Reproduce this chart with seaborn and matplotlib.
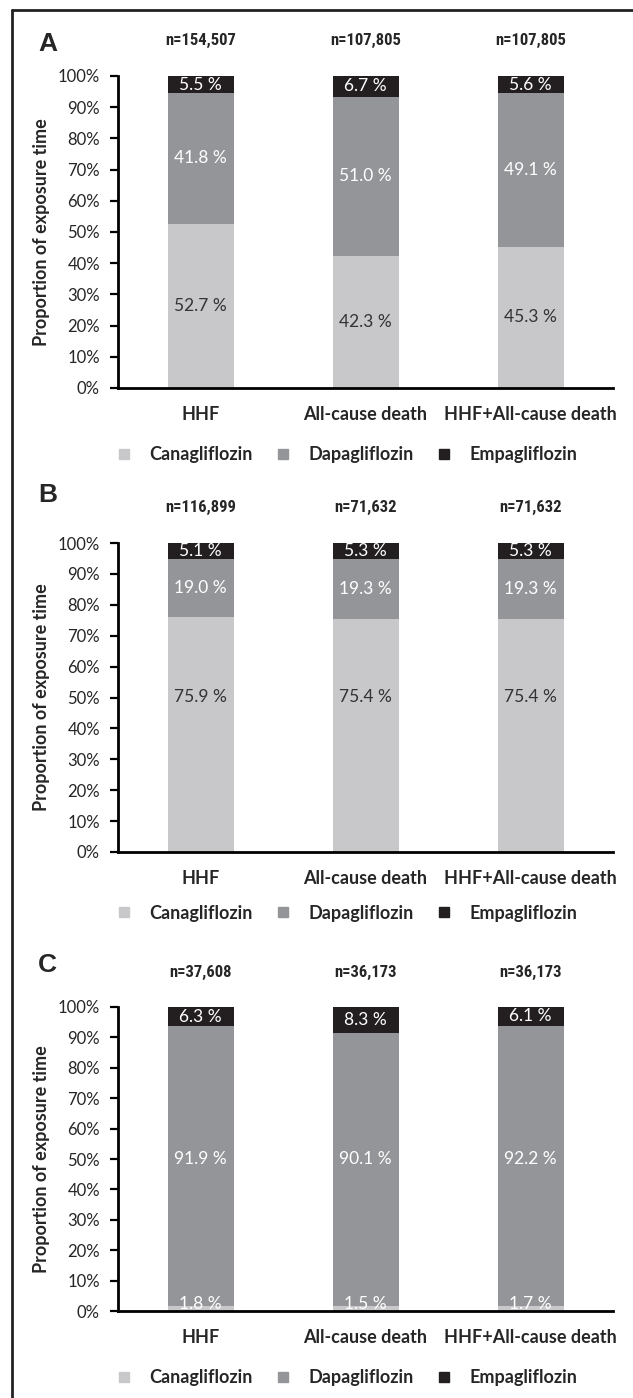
import numpy as np
import pandas as pd
import matplotlib
matplotlib.use("Agg")
import matplotlib.pyplot as plt
import seaborn as sns
from matplotlib.lines import Line2D

# ---------------- data ----------------
outcomes = ["HHF", "All-cause death", "HHF+All-cause death"]
drugs = ["Canagliflozin", "Dapagliflozin", "Empagliflozin"]
panel_names = ["A", "B", "C"]

n_A = ["n=154,507", "n=107,805", "n=107,805"]
n_B = ["n=116,899", "n=71,632", "n=71,632"]
n_C = ["n=37,608", "n=36,173", "n=36,173"]

cana_A = [52.7, 42.3, 45.3]
dapa_A = [41.8, 51.0, 49.1]
empa_A = [5.5, 6.7, 5.6]

cana_B = [75.9, 75.4, 75.4]
dapa_B = [19.0, 19.3, 19.3]
empa_B = [5.1, 5.3, 5.3]

cana_C = [1.8, 1.5, 1.7]
dapa_C = [91.9, 90.1, 92.2]
empa_C = [6.3, 8.3, 6.1]

ytick_values = [0, 10, 20, 30, 40, 50, 60, 70, 80, 90, 100]
ytick_labels = ["0%", "10%", "20%", "30%", "40%", "50%", "60%", "70%", "80%", "90%", "100%"]
ylabel = "Proportion of exposure time"

# ---------------- style ----------------
sns.set_style("white")
plt.rcParams["font.family"] = ["Lato", "DejaVu Sans"]

colors = {"Canagliflozin": "#c8c8ca", "Dapagliflozin": "#939598", "Empagliflozin": "#231f20"}
text_colors = {"Canagliflozin": "#333333", "Dapagliflozin": "white", "Empagliflozin": "white"}
ink = "#262626"

W, H = 633, 1398
fig = plt.figure(figsize=(W / 100, H / 100), dpi=100)

ax_left_px, ax_right_px = 118, 613
panel_px = [(76, 388), (543, 852), (1007, 1311)]
letter_y_px = [44, 495, 965]
legend_y_px = [455, 913, 1378]

panels = [
    (n_A, cana_A, dapa_A, empa_A),
    (n_B, cana_B, dapa_B, empa_B),
    (n_C, cana_C, dapa_C, empa_C),
]

narrow = ["Roboto Condensed", "Liberation Sans Narrow", "Liberation Sans", "DejaVu Sans"]

for i, (nlab, cana, dapa, empa) in enumerate(panels):
    top, bot = panel_px[i]
    ax = fig.add_axes([ax_left_px / W, 1 - bot / H,
                       (ax_right_px - ax_left_px) / W, (bot - top) / H])
    layers = [cana, dapa, empa]
    bottoms = np.zeros(3)
    for drug, vals in zip(drugs, layers):
        df = pd.DataFrame({"outcome": outcomes, "value": vals})
        sns.barplot(data=df, x="outcome", y="value", order=outcomes,
                    color=colors[drug], width=0.4, bottom=bottoms.copy(),
                    edgecolor="none", linewidth=0, saturation=1,
                    errorbar=None, ax=ax)
        for j, v in enumerate(vals):
            lo = bottoms[j]
            if v < 3:
                y, va, tc = lo - 0.3, "bottom", "white"
            elif v > 70:
                y, va, tc = 50, "center", text_colors[drug]
            else:
                y, va, tc = lo + v / 2, "center", text_colors[drug]
            ax.text(j, y, f"{v:.1f} %", ha="center", va=va, color=tc, fontsize=12.5)
        bottoms = bottoms + np.array(vals)

    ax.set_ylim(0, 100)
    ax.set_xlim(-0.5, 2.5)
    ax.set_yticks(ytick_values)
    ax.set_yticklabels(ytick_labels, fontsize=12, color=ink)
    ax.set_xticks([0, 1, 2])
    ax.set_xticklabels(outcomes, fontsize=13, fontweight="bold", color=ink)
    ax.set_xticks([-0.5, 0.5, 1.5, 2.5], minor=True)
    ax.tick_params(axis="x", which="major", length=0, pad=13)
    ax.tick_params(axis="x", which="minor", length=6, width=1.6, direction="out", color="black")
    ax.tick_params(axis="y", length=6, width=1.6, direction="out", color="black", pad=7, left=True)
    ax.set_xlabel("")
    ax.set_ylabel(ylabel, fontsize=13, fontweight="bold", color=ink)
    ax.yaxis.label.set_verticalalignment("center")
    ax.yaxis.set_label_coords((42 - ax_left_px) / (ax_right_px - ax_left_px), 0.5)
    for side in ["top", "right"]:
        ax.spines[side].set_visible(False)
    for side in ["left", "bottom"]:
        ax.spines[side].set_color("black")
        ax.spines[side].set_linewidth(2)
    ax.grid(False)

    for j, t in enumerate(nlab):
        ax.text(j, 1.115, t, transform=ax.get_xaxis_transform(), ha="center", va="center",
                fontsize=12, fontweight="bold", color=ink, family=narrow,
                fontstretch="condensed")

    fig.text(38 / W, 1 - letter_y_px[i] / H, panel_names[i], ha="left", va="center",
             fontsize=19, fontweight="bold", color=ink,
             family=["Liberation Sans", "DejaVu Sans"])

    handles = [Line2D([], [], marker="s", linestyle="none", markersize=7.5,
                      markerfacecolor=colors[d], markeredgecolor=colors[d]) for d in drugs]
    fig.legend(handles, drugs, loc="center", bbox_to_anchor=(346 / W, 1 - legend_y_px[i] / H),
               ncol=3, frameon=False, handlelength=1.0, handletextpad=0.9,
               columnspacing=1.2, prop={"size": 13, "weight": "bold"},
               labelcolor=ink)

# partial frame lines (top and left)
fig.add_artist(Line2D([12 / W, 1], [1 - 10 / H, 1 - 10 / H], color="#222222", linewidth=2,
                      transform=fig.transFigure))
fig.add_artist(Line2D([12 / W, 12 / W], [0, 1 - 10 / H], color="#222222", linewidth=2,
                      transform=fig.transFigure))

fig.savefig("out.png", dpi=100)
